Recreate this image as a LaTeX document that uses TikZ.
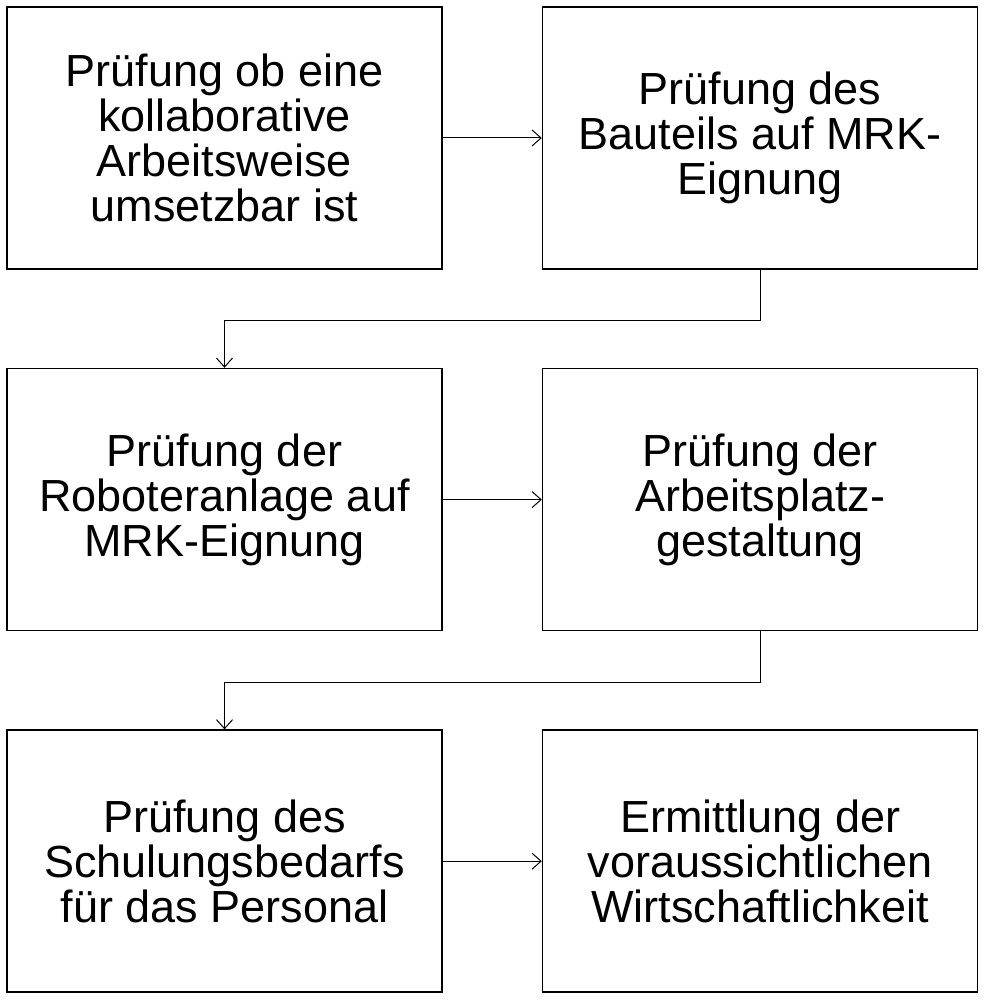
\documentclass[tikz,border=0pt]{standalone}
\usepackage{fontspec}
\setmainfont{Liberation Sans}
\usetikzlibrary{positioning,arrows.meta}
\tikzset{
  box/.style={draw, line width=1.6pt, minimum width=435pt, minimum height=262pt,
    align=center, inner sep=0pt, font=\fontsize{45}{45}\selectfont},
  pfeil/.style={-{Straight Barb[length=9pt,width=16pt]}, line width=1pt}
}
\begin{document}
\begin{tikzpicture}[x=1pt,y=-1pt]
	% Rahmen
		\useasboundingbox (0,0) rectangle (985,1000);
	% Boxen
		\node[box] (kollab) at (224.5,138) {Prüfung ob eine\\kollaborative\\Arbeitsweise\\umsetzbar ist};
		\node[box, right=99pt of kollab] (bauteil) {Prüfung des\\Bauteils auf MRK-\\Eignung};
		\node[box, below=98pt of kollab] (roboter) {Prüfung der\\Roboteranlage auf\\MRK-Eignung};
		\node[box, right=99pt of roboter] (platz) {Prüfung der\\Arbeitsplatz-\\gestaltung};
		\node[box, below=98pt of roboter] (schulung) {Prüfung des\\Schulungsbedarfs\\für das Personal};
		\node[box, right=99pt of schulung] (wirtschaft) {Ermittlung der\\voraussichtlichen\\Wirtschaftlichkeit};
	% Pfeile
		\draw[pfeil] (kollab) -- (bauteil);
		\draw[pfeil] (roboter) -- (platz);
		\draw[pfeil] (schulung) -- (wirtschaft);
		\draw[pfeil] (bauteil.south) |- (224.5,320) -- (roboter.north);
		\draw[pfeil] (platz.south) |- (224.5,682) -- (schulung.north);
\end{tikzpicture}
\end{document}
